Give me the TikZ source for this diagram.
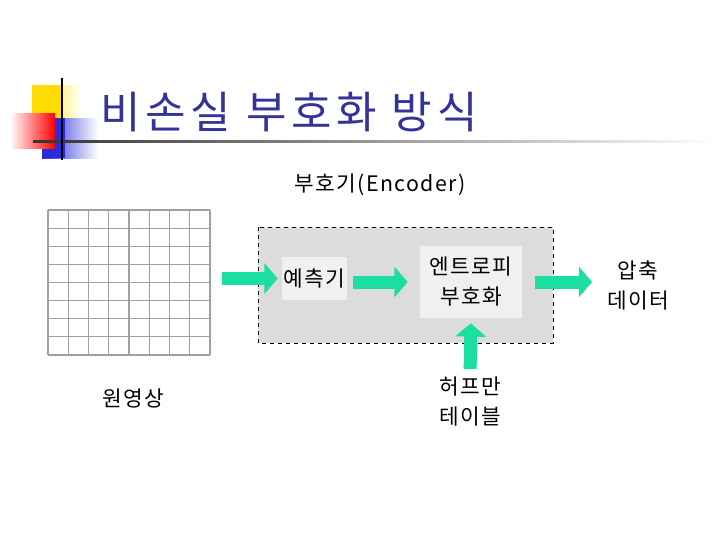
\documentclass[tikz,border=0pt]{standalone}
\usepackage{fontspec}
\setmainfont[LetterSpace=7]{Noto Sans CJK KR}
\newfontfamily\titlefont[LetterSpace=11]{Noto Sans CJK KR}
\usepackage{tikz}
\usetikzlibrary{arrows.meta}

\definecolor{titleblue}{HTML}{333399}
\definecolor{arrowgreen}{HTML}{1ADFA0}
\definecolor{boxgray}{HTML}{DCDCDC}
\definecolor{cellgray}{HTML}{A0A0A0}
\definecolor{blockfill}{HTML}{F0F0F0}

\tikzset{
  fatarrow/.style={draw=arrowgreen, line width=9.75pt,
    -{Triangle[length=10pt,width=22.5pt]}},
  blockbox/.style={fill=blockfill, inner sep=0pt, align=center,
    font=\fontsize{16}{22.5}\selectfont},
  plain/.style={inner sep=0pt, align=center,
    font=\fontsize{16}{22.5}\selectfont},
}

\begin{document}
\begin{tikzpicture}[x=0.75pt,y=-0.75pt]
  \useasboundingbox (0,0) rectangle (720,540);
  % title marks
  \shade[left color=yellow!80!orange, right color=white] (32,85) rectangle (82,120);
  \fill[yellow!80!orange] (32,85) rectangle (62,120);
  \shade[left color=blue!80!white!85!black, right color=white] (42,118) rectangle (98,158);
  \fill[blue!80!white!85!black] (42,118) rectangle (65,158);
  \shade[left color=white, right color=red] (10,113) rectangle (55,148);
  \shade[left color=black!80, right color=white] (33,140) rectangle (720,142.5);
  \draw[line width=1.5pt] (62,78) -- (62,160);
  \node (title) [anchor=west, inner sep=0pt, text=titleblue,
    font=\titlefont\fontsize{33}{33}\selectfont] at (100,112) {비손실 부호화 방식};

  % encoder
  \node (enclabel) [plain] at (380,185) {부호기(Encoder)};
  \draw[dashed, fill=boxgray] (258,227) rectangle (553,343);
  \node (pred) [blockbox, minimum width=48.75pt, minimum height=32pt] at (314.5,278.5) {예측기};
  \node (ent) [blockbox, minimum width=76.5pt, minimum height=54pt] at (471,282) {엔트로피\\부호화};

  % image grid
  \node (img) [inner sep=0pt, minimum width=121.5pt, minimum height=108.75pt] at (129,282.5) {};
  \foreach \i in {0,...,8} {
    \draw[cellgray, line width=0.9pt] (48+\i*20.25,210) -- (48+\i*20.25,355);
    \draw[cellgray, line width=0.9pt] (48,210+\i*18.125) -- (210,210+\i*18.125);
  }
  \node (src) [plain] at (133,398) {원영상};
  \node (huff) [plain] at (470,402) {허프만\\테이블};
  \node (out) [plain] at (638,285) {압축\\데이터};

  \draw[fatarrow, shorten <=9pt, shorten >=3pt] (img.east |- pred.west) -- (pred.west);
  \draw[fatarrow, shorten <=4.5pt, shorten >=9pt] (pred.east |- ent.west) -- (ent.west);
  \draw[fatarrow, shorten <=9.75pt, shorten >=11pt] (ent.east) -- (out.west |- ent.east);
  \draw[fatarrow, shorten <=6pt, shorten >=3.75pt] (huff.north) -- (ent.south);
\end{tikzpicture}
\end{document}
